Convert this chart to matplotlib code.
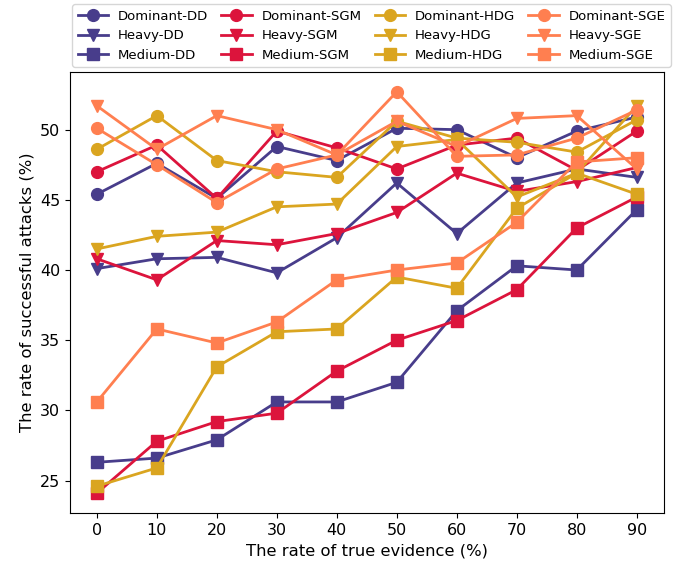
import matplotlib
matplotlib.use('Agg')
import matplotlib.pyplot as plt

# x axis: rate of true evidence (%)
evidence = [0, 10, 20, 30, 40, 50, 60, 70, 80, 90]

# DD
dominant_dd = [45.4, 47.6, 45.1, 48.8, 47.8, 50.1, 50.0, 48.0, 49.9, 50.9]
heavy_dd = [40.1, 40.8, 40.9, 39.8, 42.3, 46.2, 42.6, 46.2, 47.2, 46.6]
medium_dd = [26.3, 26.6, 27.9, 30.6, 30.6, 32.0, 37.1, 40.3, 40.0, 44.3]

# SGM
dominant_sgm = [47.0, 48.9, 45.1, 49.9, 48.7, 47.2, 48.9, 49.4, 47.1, 49.9]
heavy_sgm = [40.8, 39.3, 42.1, 41.8, 42.6, 44.1, 46.9, 45.6, 46.3, 47.3]
medium_sgm = [24.1, 27.8, 29.2, 29.8, 32.8, 35.0, 36.4, 38.6, 43.0, 45.2]

# HDG
dominant_hdg = [48.6, 51.0, 47.8, 47.0, 46.6, 50.6, 49.4, 49.1, 48.4, 50.7]
heavy_hdg = [41.5, 42.4, 42.7, 44.5, 44.7, 48.8, 49.3, 45.2, 46.9, 51.7]
medium_hdg = [24.6, 25.9, 33.1, 35.6, 35.8, 39.5, 38.7, 44.4, 46.9, 45.4]

# SGE
dominant_sge = [50.1, 47.5, 44.8, 47.2, 48.2, 52.7, 48.1, 48.2, 49.4, 51.4]
heavy_sge = [51.7, 48.6, 51.0, 50.0, 48.2, 50.6, 48.8, 50.8, 51.0, 47.2]
medium_sge = [30.6, 35.8, 34.8, 36.3, 39.3, 40.0, 40.5, 43.4, 47.7, 48.0]

methods = ['DD', 'SGM', 'HDG', 'SGE']
colors = {'DD': '#483D8B', 'SGM': '#DC143C', 'HDG': '#DAA520', 'SGE': '#FF7F50'}
series = {
    'DD': [dominant_dd, heavy_dd, medium_dd],
    'SGM': [dominant_sgm, heavy_sgm, medium_sgm],
    'HDG': [dominant_hdg, heavy_hdg, medium_hdg],
    'SGE': [dominant_sge, heavy_sge, medium_sge],
}
levels = ['Dominant', 'Heavy', 'Medium']
markers = ['o', 'v', 's']

fig, ax = plt.subplots(figsize=(6.78, 5.69), dpi=100)
fig.subplots_adjust(left=0.103, right=0.979, top=0.874, bottom=0.098)

for m in methods:
    for level, mk, vals in zip(levels, markers, series[m]):
        ax.plot(evidence, vals, marker=mk, color=colors[m], linewidth=2,
                markersize=8.5, label=f"{level}-{m}")

ax.set_xticks(evidence)
ax.tick_params(labelsize=11.5)
ax.set_xlabel('The rate of true evidence (%)', fontsize=11.8)
ax.set_ylabel('The rate of successful attacks (%)', fontsize=11.8)

ax.legend(ncol=4, loc='lower center', bbox_to_anchor=(0.508, 1.0),
          fontsize=9.5, borderaxespad=0.35, columnspacing=1.0,
          handlelength=2.3, handletextpad=0.75)

plt.savefig('out.png', dpi=100)
